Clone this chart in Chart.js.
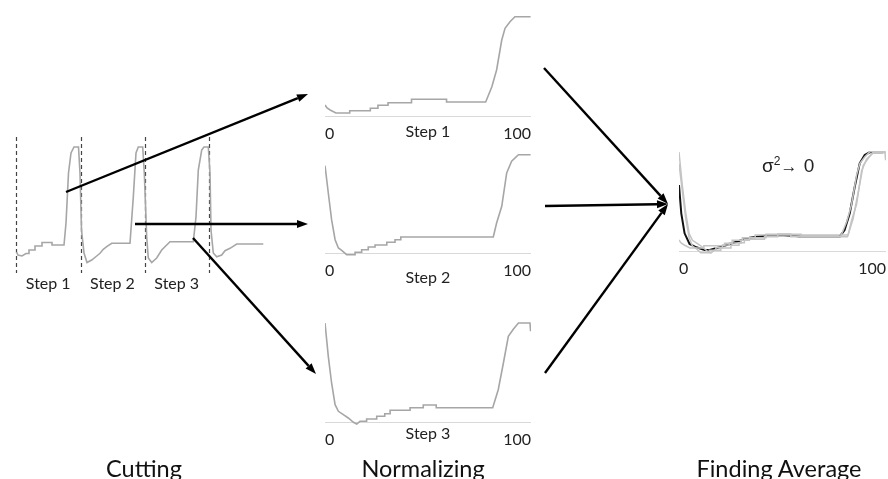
<!DOCTYPE html>
<html>
<head>
<meta charset="utf-8">
<script src="https://cdn.jsdelivr.net/npm/chart.js@4.4.1/dist/chart.umd.min.js"></script>
<style>
  html, body { margin: 0; padding: 0; background: #fff; }
  #stage { position: relative; width: 888px; height: 479px; overflow: hidden; font-family: Lato, "Open Sans", sans-serif; }
  #stage canvas { position: absolute; left: 0; top: 0; }
  .title { position: absolute; font-size: 23.5px; line-height: 23px; color: #111; white-space: nowrap; transform: translateX(-50%); }
  #sigma { position: absolute; left: 762px; top: 156px; font-family: "Liberation Sans", Arial, sans-serif; font-size: 19px; line-height: 19px; color: #222; white-space: nowrap; }
  #sigma sup { font-size: 12px; vertical-align: 7px; line-height: 0; }
  #sigma .arr { font-size: 17px; margin: 0 1px 0 0; }
</style>
</head>
<body>
<div id="stage">
  <canvas id="cut" width="888" height="479"></canvas>
  <canvas id="step1" width="888" height="479"></canvas>
  <canvas id="step2" width="888" height="479"></canvas>
  <canvas id="step3" width="888" height="479"></canvas>
  <canvas id="avg" width="960" height="479"></canvas>
  <canvas id="arrows" width="888" height="479"></canvas>
  <div id="sigma">σ<sup>2</sup><span class="arr">→</span> 0</div>
</div>
<script>
// raw signal with three cycles (x = samples, y = level)
var cutX = [6.5, 8, 12, 16, 19, 19, 25, 25, 32, 32, 42, 42, 54, 56, 58.5, 61, 64, 68.5, 70, 71.5, 74, 77,
            81.7, 86.7, 90, 93.3, 96.7, 101.7, 120, 123.3, 126, 128.3, 132.7, 134.3, 136.7, 138.3, 141.7,
            146.7, 151.7, 156.7, 160, 183.3, 186, 188.3, 191.7, 194, 198.3, 200, 201, 203.3, 206.7,
            211.7, 215, 220, 226.7, 253.3];
var cutY = [21, 18, 17, 19.5, 19.5, 23, 23, 27, 27, 30.5, 30.5, 28, 28, 50, 100, 120, 126, 126, 100, 43, 20, 10.5,
            13, 17, 19.7, 23.7, 26.3, 29.7, 29.7, 76, 120, 126, 126, 100, 36, 15, 10.5,
            15, 23, 28, 31.3, 31.3, 56, 103, 123, 126, 126, 100, 43, 20, 16.3,
            18, 22.3, 24.7, 29, 29];
var cutBounds = [6, 70.5, 134.5, 199];
var cutLabels = ["Step 1", "Step 2", "Step 3"];

// normalized steps, x = 0..100 %
var step1X = [0, 1, 2.5, 5.3, 12, 12, 22, 22, 25.7, 25.7, 30.6, 30.6, 42, 42, 59, 59, 78, 81, 83.3, 85.8, 87.4, 89.8, 92.2, 99.8];
var step1Y = [11, 8, 6, 3, 3, 5.3, 5.3, 7.7, 7.7, 10.7, 10.7, 13.3, 13.3, 16.7, 16.7, 14, 14, 29.3, 46, 76, 87.7, 94.3, 99.3, 99.3];

var step2X = [0, 1.6, 3.2, 4.9, 6.5, 8.1, 10.5, 14.6, 14.6, 17.8, 17.8, 21, 21, 24.3, 24.3, 30, 30, 34, 34, 36.8, 36.8,
              81.7, 83.3, 85.8, 88.2, 90.6, 93.9, 99.8];
var step2Y = [87.3, 60, 33.3, 13.3, 5, 2.7, -1.7, -1.7, 0.7, 0.7, 3.3, 3.3, 6, 6, 8, 8, 10.7, 10.7, 13.3, 13.3, 16,
              16, 30, 46.7, 80, 91.7, 98.3, 98.3];

var step3X = [0, 1.6, 3.2, 4.9, 6.5, 8.9, 11.3, 13.8, 15.4, 17, 20.2, 20.2, 25.1, 25.1, 29, 29, 31.6, 31.6, 41.3, 41.3,
              47.7, 47.7, 54, 54, 81.4, 84.1, 86.6, 89, 91.5, 93.9, 99.5, 99.8];
var step3Y = [99, 65.7, 39, 17.3, 10.7, 7.3, 4, -0.3, -2, 0.7, 0.7, 3, 3, 5.7, 5.7, 8.3, 8.3, 11.7, 11.7, 14.3,
              14.3, 17, 17, 14.3, 14.3, 32.3, 59, 85.7, 93, 99, 99, 90.7];

// average of the three steps
var avgX = [0, 1.1, 2.7, 5.1, 8.4, 12.4, 14.8, 19.6, 24.5, 29.3, 34.1, 40.6, 48.6, 55, 59.8, 77.6, 80, 82.5, 84.9, 87.3, 89.7, 92.1, 98.6];
var avgY = [66, 37.7, 17.7, 7, 3.7, 1, 1, 3.7, 7, 10.3, 13.3, 15, 16, 15.3, 14.3, 14.3, 21, 37.7, 64.3, 87.7, 96, 98.7, 98.7];

var endTicks = [0, 100];
var endLabels = ["0", "100"];
var stepNames = ["Step 1", "Step 2", "Step 3"];
var panelTitles = ["Cutting", "Normalizing", "Finding Average"];

var GRAY = "#a6a6a6";
var FONT = "Lato, 'Open Sans', sans-serif";

function pts(xs, ys) {
    return xs.map(function (x, i) { return { x: x, y: ys[i] }; });
}

var guideLines = {
    id: "guideLines",
    beforeDatasetsDraw: function (chart, args, opts) {
        var ctx = chart.ctx, area = chart.chartArea;
        ctx.save();
        if (opts.baseline) {
            var y0 = Math.round(chart.scales.y.getPixelForValue(0)) + 0.5;
            ctx.strokeStyle = "#d9d9d9";
            ctx.lineWidth = 1;
            ctx.beginPath();
            ctx.moveTo(area.left, y0);
            ctx.lineTo(area.right, y0);
            ctx.stroke();
        }
        if (opts.cuts) {
            ctx.strokeStyle = "#444";
            ctx.lineWidth = 1.2;
            ctx.setLineDash([4, 3]);
            opts.cuts.forEach(function (b) {
                var px = Math.round(chart.scales.x.getPixelForValue(b)) + 0.5;
                ctx.beginPath();
                ctx.moveTo(px, area.top);
                ctx.lineTo(px, area.bottom);
                ctx.stroke();
            });
        }
        ctx.restore();
    }
};

// box = chart area in page pixels, ax = axis options
function makeChart(id, box, xRange, yRange, datasets, ax, guides) {
    var el = document.getElementById(id);
    return new Chart(el, {
        type: "line",
        data: { datasets: datasets },
        plugins: [guideLines],
        options: {
            responsive: false,
            animation: false,
            layout: {
                padding: { left: box.left, top: box.top, right: el.width - box.right, bottom: 479 - box.bottom - ax.height }
            },
            elements: { point: { radius: 0 }, line: { tension: 0 } },
            plugins: {
                legend: { display: false },
                tooltip: { enabled: false },
                guideLines: guides
            },
            scales: {
                x: {
                    type: "linear",
                    min: xRange[0],
                    max: xRange[1],
                    grid: { display: false, drawTicks: false },
                    border: { display: false },
                    afterBuildTicks: function (s) { s.ticks = ax.ticks.map(function (v) { return { value: v }; }); },
                    afterFit: function (s) { s.height = ax.height; },
                    title: {
                        display: !!ax.title,
                        text: ax.title || "",
                        padding: { top: 0, bottom: ax.titlePad || 0 },
                        color: "#222",
                        font: { family: FONT, size: 16 }
                    },
                    ticks: {
                        autoSkip: false,
                        maxRotation: 0,
                        padding: ax.padding,
                        align: ax.align,
                        color: "#222",
                        font: { family: FONT, size: ax.size },
                        callback: function (v, i) { return ax.labels[i]; }
                    }
                },
                y: { display: false, min: yRange[0], max: yRange[1] }
            }
        }
    });
}

function line(data, color, width) {
    return { data: data, borderColor: color, borderWidth: width, fill: false };
}

var cutMids = [];
for (var i = 0; i < cutBounds.length - 1; i++) cutMids.push((cutBounds[i] + cutBounds[i + 1]) / 2);

makeChart("cut", { left: 10, top: 137, right: 270, bottom: 273 }, [0, 260], [0, 136],
    [line(pts(cutX, cutY), GRAY, 1.6)],
    { ticks: cutMids, labels: cutLabels, size: 16, padding: 1, align: "center", height: 24 },
    { cuts: cutBounds });

var stepSeries = [[step1X, step1Y], [step2X, step2Y], [step3X, step3Y]];
var stepBoxes = [
    { left: 325, top: 12, right: 531, bottom: 120 },
    { left: 325, top: 149, right: 531, bottom: 257 },
    { left: 325, top: 318, right: 531, bottom: 426 }
];
var stepAxisH = [24, 30, 24];
var stepTitlePad = [2.4, 0, 6.4];

stepSeries.forEach(function (s, k) {
    makeChart("step" + (k + 1), stepBoxes[k], [0, 100], [-4, 104],
        [line(pts(s[0], s[1]), GRAY, 1.6)],
        { ticks: endTicks, labels: endLabels, title: stepNames[k], titlePad: stepTitlePad[k],
          size: 16, padding: 4, align: "inner", height: stepAxisH[k] },
        { baseline: true });
});

makeChart("avg", { left: 679, top: 147, right: 886, bottom: 255 }, [0, 100], [-4, 104],
    [line(pts(step1X, step1Y), "#c4c4c4", 1.5),
     line(pts(step2X, step2Y), "#c4c4c4", 1.5),
     line(pts(step3X, step3Y), "#c4c4c4", 1.5),
     line(pts(avgX, avgY), "#111", 2)],
    { ticks: endTicks, labels: endLabels, size: 16, padding: 4, align: "inner", height: 24 },
    { baseline: true });

// connector arrows between the panels
var arrows = [
    [66, 192, 308, 94],
    [135, 224, 308, 224],
    [193, 238, 316, 374],
    [544, 68, 668, 204],
    [545, 206, 668, 204],
    [545, 373, 668, 204]
];
var actx = document.getElementById("arrows").getContext("2d");
actx.strokeStyle = "#000";
actx.fillStyle = "#000";
actx.lineWidth = 2.4;
arrows.forEach(function (a) {
    var ang = Math.atan2(a[3] - a[1], a[2] - a[0]);
    var hl = 11, hw = 4;
    var bx = a[2] - hl * Math.cos(ang), by = a[3] - hl * Math.sin(ang);
    actx.beginPath();
    actx.moveTo(a[0], a[1]);
    actx.lineTo(bx, by);
    actx.stroke();
    actx.beginPath();
    actx.moveTo(a[2], a[3]);
    actx.lineTo(bx + hw * Math.sin(ang), by - hw * Math.cos(ang));
    actx.lineTo(bx - hw * Math.sin(ang), by + hw * Math.cos(ang));
    actx.closePath();
    actx.fill();
});

// panel titles
var titleX = [144, 423, 779];
var stage = document.getElementById("stage");
panelTitles.forEach(function (t, i) {
    var d = document.createElement("div");
    d.className = "title";
    d.style.left = titleX[i] + "px";
    d.style.top = "457px";
    d.textContent = t;
    stage.appendChild(d);
});
</script>
</body>
</html>
